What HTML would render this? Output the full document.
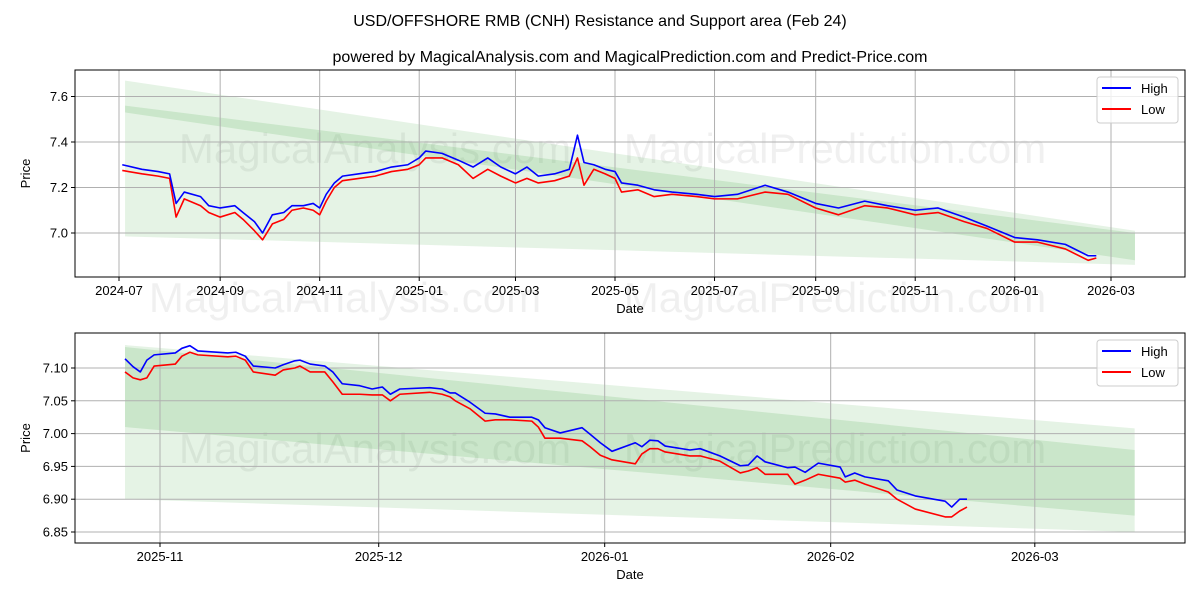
<!DOCTYPE html>
<html><head><meta charset="utf-8"><style>
body{margin:0;background:#fff}
svg{display:block;font-family:"Liberation Sans","DejaVu Sans",sans-serif}
</style></head><body>
<svg id="c" width="1200" height="600" viewBox="0 0 1200 600">
<text x="600" y="26" text-anchor="middle" font-size="16">USD/OFFSHORE RMB (CNH) Resistance and Support area (Feb 24)</text>
<text x="630" y="62" text-anchor="middle" font-size="16">powered by MagicalAnalysis.com and MagicalPrediction.com and Predict-Price.com</text>
<g id="top"></g>
<g id="bot"></g>
</svg>
<script>
// ---- top panel data (days since 2024-07-01) ----
const topDays=[2,14,24,31,35,40,50,55,62,71,76,83,88,94,101,106,113,119,123,127,132,137,147,157,167,177,184,188,198,208,217,226,234,243,250,257,267,276,281,285,291,298,304,308,318,328,339,354,365,379,396,410,427,441,457,471,488,502,518,532,549,563,580,594,599];
const topHigh=[7.30,7.28,7.27,7.26,7.13,7.18,7.16,7.12,7.11,7.12,7.09,7.05,7.00,7.08,7.09,7.12,7.12,7.13,7.11,7.17,7.22,7.25,7.26,7.27,7.29,7.30,7.33,7.36,7.35,7.32,7.29,7.33,7.29,7.26,7.29,7.25,7.26,7.28,7.43,7.31,7.30,7.28,7.27,7.22,7.21,7.19,7.18,7.17,7.16,7.17,7.21,7.18,7.13,7.11,7.14,7.12,7.10,7.11,7.07,7.03,6.98,6.97,6.95,6.90,6.90];
const topLow=[7.275,7.26,7.25,7.24,7.07,7.15,7.12,7.09,7.07,7.09,7.06,7.01,6.97,7.04,7.06,7.10,7.11,7.10,7.08,7.14,7.20,7.23,7.24,7.25,7.27,7.28,7.30,7.33,7.33,7.30,7.24,7.28,7.25,7.22,7.24,7.22,7.23,7.25,7.33,7.21,7.28,7.26,7.24,7.18,7.19,7.16,7.17,7.16,7.15,7.15,7.18,7.17,7.11,7.08,7.12,7.11,7.08,7.09,7.05,7.02,6.96,6.96,6.93,6.88,6.89];
const topBandDays=[3.7,622.7];
const topOuterUp=[7.67,7.01], topOuterLo=[6.985,6.86];
const topInnerUp=[7.56,7.00], topInnerLo=[7.53,6.88];
const topXTicks=[0,62,123,184,243,304,365,427,488,549,608];
const topXLabels=["2024-07","2024-09","2024-11","2025-01","2025-03","2025-05","2025-07","2025-09","2025-11","2026-01","2026-03"];
const topYTicks=[7.0,7.2,7.4,7.6];
const topYLabels=["7.0","7.2","7.4","7.6"];
// ---- bottom panel data (days since 2025-11-01) ----
const botDays=[-4.8,-3.7,-2.7,-1.8,-0.8,2.1,3.0,4.1,5.2,9.3,10.4,11.7,12.8,15.8,16.9,18.5,19.2,20.6,22.6,23.7,25.0,27.4,29.1,30.5,31.6,32.9,37.0,38.7,39.8,40.5,42.5,44.6,46.0,48.0,51.0,51.9,52.8,54.9,57.9,59.0,60.4,62.0,65.2,66.1,67.2,68.3,69.3,72.7,74.1,76.8,79.6,80.7,81.9,83.0,86.1,87.1,88.5,90.3,93.3,94.0,95.3,96.7,99.9,101.1,103.6,107.7,108.6,109.7,110.7];
const botHigh=[7.114,7.102,7.094,7.112,7.120,7.123,7.130,7.134,7.126,7.123,7.124,7.118,7.103,7.100,7.105,7.111,7.112,7.106,7.103,7.094,7.076,7.073,7.068,7.071,7.060,7.068,7.070,7.068,7.062,7.062,7.048,7.031,7.030,7.025,7.025,7.021,7.009,7.001,7.009,6.999,6.986,6.973,6.986,6.980,6.990,6.989,6.981,6.975,6.977,6.966,6.951,6.952,6.966,6.957,6.948,6.949,6.941,6.955,6.949,6.934,6.940,6.934,6.928,6.914,6.905,6.897,6.888,6.900,6.900];
const botLow=[7.094,7.085,7.082,7.085,7.103,7.106,7.118,7.124,7.120,7.117,7.118,7.112,7.094,7.089,7.097,7.100,7.103,7.094,7.094,7.079,7.060,7.060,7.059,7.059,7.050,7.060,7.063,7.060,7.056,7.050,7.038,7.019,7.021,7.021,7.019,7.010,6.993,6.993,6.989,6.980,6.967,6.960,6.954,6.969,6.977,6.977,6.972,6.966,6.966,6.958,6.940,6.943,6.948,6.938,6.938,6.923,6.929,6.938,6.932,6.926,6.929,6.923,6.911,6.900,6.885,6.873,6.873,6.882,6.888];
const botBandDays=[-4.8,133.7];
const botOuterUp=[7.135,7.008], botOuterLo=[6.90,6.85];
const botInnerUp=[7.132,6.975], botInnerLo=[7.01,6.875];
const botXTicks=[0,30,61,92,120];
const botXLabels=["2025-11","2025-12","2026-01","2026-02","2026-03"];
const botYTicks=[6.85,6.90,6.95,7.00,7.05,7.10];
const botYLabels=["6.85","6.90","6.95","7.00","7.05","7.10"];

const NS="http://www.w3.org/2000/svg";
function mk(parent,tag,attrs,txt){const e=document.createElementNS(NS,tag);for(const k in attrs)e.setAttribute(k,attrs[k]);if(txt!==undefined)e.textContent=txt;parent.appendChild(e);return e;}

function panel(g,box,xs,ys,d){
  const [L,T,R,B]=box;
  const X=v=>xs[0]+(v-xs[1])*xs[2], Y=v=>ys[0]-(v-ys[1])*ys[2];
  const wm1=mk(g,'text',{x:375,y:d.wmY,'text-anchor':'middle','font-size':42,fill:'#000','fill-opacity':0.06},'MagicalAnalysis.com');
  
  
  const wm2=mk(g,'text',{x:835,y:d.wmY,'text-anchor':'middle','font-size':42,fill:'#000','fill-opacity':0.06},'MagicalPrediction.com');
  
  
  const band=(up,lo,op,name)=>{const p=mk(g,'polygon',{points:`${X(d.bd[0])},${Y(up[0])} ${X(d.bd[1])},${Y(up[1])} ${X(d.bd[1])},${Y(lo[1])} ${X(d.bd[0])},${Y(lo[0])}`,fill:'#2ca02c','fill-opacity':op});
    
    };
  band(d.ou,d.ol,0.12,'outer-band');
  band(d.iu,d.il,0.15,'inner-band');
  d.xt.forEach((t,i)=>{const x=X(t);mk(g,'line',{x1:x,x2:x,y1:T,y2:B,stroke:'#b0b0b0','stroke-width':1});
    mk(g,'line',{x1:x,x2:x,y1:B,y2:B+4,stroke:'#000'});
    const tl=mk(g,'text',{x:x,y:B+18,'text-anchor':'middle','font-size':13},d.xl[i]);
    
    });
  d.yt.forEach((t,i)=>{const y=Y(t);mk(g,'line',{x1:L,x2:R,y1:y,y2:y,stroke:'#b0b0b0','stroke-width':1});
    mk(g,'line',{x1:L-4,x2:L,y1:y,y2:y,stroke:'#000'});
    const tl=mk(g,'text',{x:L-7,y:y+4.5,'text-anchor':'end','font-size':13},d.yl[i]);
    
    });
  const line=(vals,col,name)=>{const pl=mk(g,'polyline',{points:d.days.map((v,i)=>X(v)+','+Y(vals[i])).join(' '),fill:'none',stroke:col,'stroke-width':1.6,'stroke-linejoin':'round'});
    
    };
  line(d.lo,'#ff0000','low-line');
  line(d.hi,'#0000ff','high-line');
  mk(g,'rect',{x:L,y:T,width:R-L,height:B-T,fill:'none',stroke:'#000','stroke-width':1});
  const xa=mk(g,'text',{x:(L+R)/2,y:B+36,'text-anchor':'middle','font-size':13},'Date');
  
  
  const ya=mk(g,'text',{x:0,y:0,'text-anchor':'middle','font-size':13,transform:`translate(${L-45},${(T+B)/2}) rotate(-90)`},'Price');
  
  
  const lg=mk(g,'g',{});
  
  
  const lx=1097,ly=T+7;
  mk(lg,'rect',{x:lx,y:ly,width:81,height:46,rx:3,fill:'#fff','fill-opacity':0.8,stroke:'#ccc'});
  mk(lg,'line',{x1:lx+5,x2:lx+34,y1:ly+11,y2:ly+11,stroke:'#0000ff','stroke-width':2});
  const l1=mk(lg,'text',{x:lx+44,y:ly+16,'font-size':13},'High');
  
  
  mk(lg,'line',{x1:lx+5,x2:lx+34,y1:ly+32,y2:ly+32,stroke:'#ff0000','stroke-width':2});
  const l2=mk(lg,'text',{x:lx+44,y:ly+37,'font-size':13},'Low');
  
  
}
panel(document.getElementById('top'),[75,70,1185,277],[119,0,992/608],[233,7.0,227.5],
 {wmY:163,bd:topBandDays,ou:topOuterUp,ol:topOuterLo,iu:topInnerUp,il:topInnerLo,xt:topXTicks,xl:topXLabels,yt:topYTicks,yl:topYLabels,days:topDays,hi:topHigh,lo:topLow});
panel(document.getElementById('bot'),[75,333,1185,543],[160,0,7.29],[368,7.10,656],
 {wmY:463,bd:botBandDays,ou:botOuterUp,ol:botOuterLo,iu:botInnerUp,il:botInnerLo,xt:botXTicks,xl:botXLabels,yt:botYTicks,yl:botYLabels,days:botDays,hi:botHigh,lo:botLow});
const wmA=mk(document.getElementById('c'),'text',{x:345,y:312,'text-anchor':'middle','font-size':42,fill:'#000','fill-opacity':0.06},'MagicalAnalysis.com');


const wmB=mk(document.getElementById('c'),'text',{x:835,y:312,'text-anchor':'middle','font-size':42,fill:'#000','fill-opacity':0.06},'MagicalPrediction.com');


</script>
</body></html>
